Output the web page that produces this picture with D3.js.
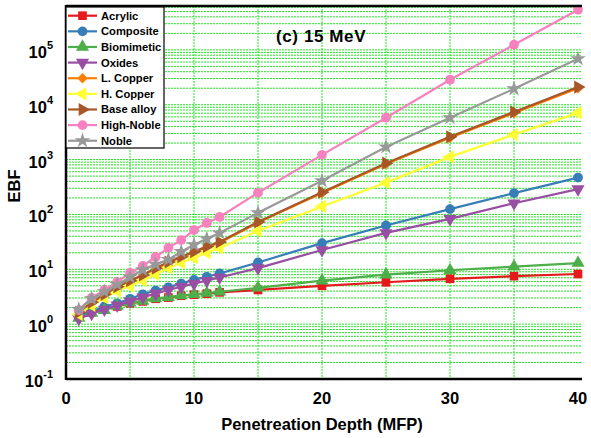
<!DOCTYPE html>
<html>
<head>
<meta charset="utf-8">
<script src="https://cdn.jsdelivr.net/npm/d3@7"></script>
<style>
  body { margin: 0; background: #fff; }
  svg { font-family: "Liberation Sans", Arial, sans-serif; font-weight: bold; }
</style>
</head>
<body>
<svg id="chart" width="591" height="438"></svg>
<script>
// Penetration depths (mfp)
const depths = [1, 2, 3, 4, 5, 6, 7, 8, 9, 10, 11, 12, 15, 20, 25, 30, 35, 40];

const seriesNames = ["Acrylic", "Composite", "Biomimetic", "Oxides", "L. Copper",
  "H. Copper", "Base alloy", "High-Noble", "Noble"];

// EBF values, one array per material
const acrylic    = [1.45, 1.65, 1.9, 2.1, 2.4, 2.6, 2.9, 3.05, 3.3, 3.45, 3.6, 3.8, 4.2, 5.0, 5.8, 6.7, 7.5, 8.2];
const composite  = [1.4, 1.7, 2.1, 2.4, 2.9, 3.5, 4.1, 4.7, 5.5, 6.4, 7.3, 8.4, 13.3, 30, 63, 125, 245, 470];
const biomimetic = [1.3, 1.6, 1.8, 2.15, 2.45, 2.65, 2.95, 3.1, 3.35, 3.5, 3.7, 3.9, 4.6, 6.2, 8.0, 9.6, 11.2, 13.0];
const oxides     = [1.25, 1.55, 1.85, 2.2, 2.6, 3.1, 3.6, 4.2, 4.8, 5.5, 6.2, 7.1, 10.5, 22.5, 46, 83, 160, 290];
const lCopper    = [1.6, 2.45, 3.4, 4.7, 6.1, 7.8, 10.2, 13.2, 16.6, 20.5, 25, 30.5, 71, 245, 830, 2500, 7100, 20000];
const hCopper    = [1.5, 2.2, 3.0, 4.0, 5.0, 6.2, 8.1, 10.6, 13.2, 16.2, 20, 24.5, 50, 140, 380, 1120, 2850, 7100];
const baseAlloy  = [1.65, 2.5, 3.5, 4.8, 6.2, 7.9, 10.5, 13.6, 17, 21, 26, 31.5, 73, 255, 860, 2600, 7400, 21000];
const highNoble  = [1.8, 3.0, 4.2, 5.9, 8.6, 11.5, 16.8, 24.6, 34, 52, 70, 90, 248, 1220, 5800, 28600, 124000, 540000];
const noble      = [1.85, 2.9, 3.9, 5.3, 7.2, 9.8, 12.3, 15, 21, 28, 36, 46, 107, 410, 1700, 5800, 19500, 69000];

const seriesValues = [acrylic, composite, biomimetic, oxides, lCopper, hCopper, baseAlloy, highNoble, noble];

const xTicks = [0, 10, 20, 30, 40];
const yExponents = [-1, 0, 1, 2, 3, 4, 5];

const colors = d3.schemeSet1;
// marker shape + rotation for each series
const markers = [
  [d3.symbolSquare, 0], [d3.symbolCircle, 0], [d3.symbolTriangle, 0],
  [d3.symbolTriangle, 180], [d3.symbolSquare, 45], [d3.symbolTriangle, -90],
  [d3.symbolTriangle, 90], [d3.symbolCircle, 0], [d3.symbolStar, 0]
];

const svg = d3.select("#chart");
const plotL = 66, plotR = 578, plotT = 6, plotB = 379;

const x = d3.scaleLinear().domain([0, 40]).range([plotL, plotR]);
const y = d3.scaleLog().domain([0.1, Math.pow(10, 5.8)]).range([plotB, plotT]);

// grid
const grid = svg.append("g");
grid.selectAll("line.h")
  .data(y.ticks().filter(d => d > 0.1))
  .enter().append("line")
  .attr("x1", plotL).attr("x2", plotR + 4)
  .attr("y1", d => y(d)).attr("y2", d => y(d))
  .attr("stroke", "#1ee81e").attr("stroke-width", 1)
  .attr("stroke-dasharray", "2,1");
grid.selectAll("line.v")
  .data(d3.range(5, 40, 5))
  .enter().append("line")
  .attr("x1", d => x(d)).attr("x2", d => x(d))
  .attr("y1", plotT).attr("y2", plotB)
  .attr("stroke", "#1ee81e").attr("stroke-width", 1)
  .attr("stroke-dasharray", "2,1");

// series
const line = d3.line().x(d => x(d[0])).y(d => y(d[1]));
seriesValues.forEach((vals, i) => {
  const pts = depths.map((d, j) => [d, vals[j]]);
  const g = svg.append("g");
  g.append("path")
    .attr("d", line(pts))
    .attr("fill", "none")
    .attr("stroke", colors[i])
    .attr("stroke-width", 2.2);
  g.selectAll("path.m")
    .data(pts)
    .enter().append("path")
    .attr("d", d3.symbol().type(markers[i][0]).size(i === 4 ? 55 : 75))
    .attr("transform", d => `translate(${x(d[0])},${y(d[1])}) rotate(${markers[i][1]})`)
    .attr("fill", colors[i]);
});

// axes frame
svg.append("line").attr("x1", plotL).attr("x2", plotL).attr("y1", plotT - 1).attr("y2", plotB + 1)
  .attr("stroke", "#000").attr("stroke-width", 2.5);
svg.append("line").attr("x1", plotL).attr("x2", plotR + 4).attr("y1", plotB).attr("y2", plotB)
  .attr("stroke", "#000").attr("stroke-width", 2.5);
svg.append("line").attr("x1", plotL).attr("x2", plotR + 4).attr("y1", plotT).attr("y2", plotT)
  .attr("stroke", "#000").attr("stroke-width", 2.5);

// y tick labels
const yLab = svg.append("g").attr("font-size", 16.5).attr("text-anchor", "end");
yExponents.forEach(e => {
  const t = yLab.append("text").attr("x", 53).attr("y", y(Math.pow(10, e)) + 8);
  t.append("tspan").text("10");
  t.append("tspan").attr("font-size", 11).attr("dy", -9).text(e);
});

// x tick labels
svg.append("g").attr("font-size", 16.5).attr("text-anchor", "middle")
  .selectAll("text").data(xTicks).enter().append("text")
  .attr("x", d => x(d)).attr("y", 404).text(d => d);

// axis titles
svg.append("text").attr("x", 322).attr("y", 430).attr("text-anchor", "middle")
  .attr("font-size", 16.5).text("Penetreation Depth (MFP)");
svg.append("text").attr("transform", "translate(20,186) rotate(-90)")
  .attr("text-anchor", "middle").attr("font-size", 16.5).text("EBF");

// title
svg.append("text").attr("x", 276).attr("y", 42).attr("font-size", 17)
  .attr("letter-spacing", 0.6).text("(c) 15 MeV");

// legend
const lg = svg.append("g");
lg.append("rect").attr("x", 66).attr("y", 7).attr("width", 98).attr("height", 141)
  .attr("fill", "#fff").attr("stroke", "#000").attr("stroke-width", 1.2);
seriesNames.forEach((name, i) => {
  const ly = 15.7 + i * 15.63;
  lg.append("line").attr("x1", 68).attr("x2", 97).attr("y1", ly).attr("y2", ly)
    .attr("stroke", colors[i]).attr("stroke-width", 2.2);
  lg.append("path")
    .attr("d", d3.symbol().type(markers[i][0]).size(i === 4 ? 55 : 75))
    .attr("transform", `translate(82.5,${ly}) rotate(${markers[i][1]})`)
    .attr("fill", colors[i]);
  lg.append("text").attr("x", 101).attr("y", ly + 4).attr("font-size", 11.2)
    .text(name);
});
</script>
</body>
</html>
